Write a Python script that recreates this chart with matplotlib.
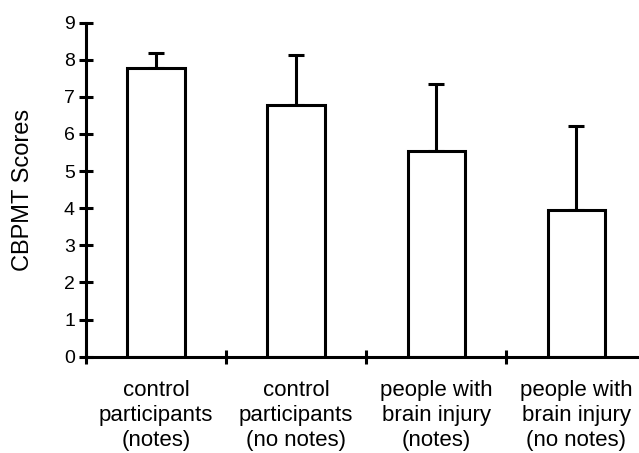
import numpy as np
import matplotlib
matplotlib.use('Agg')
import matplotlib.pyplot as plt

plt.rcParams['font.family'] = ['Liberation Sans', 'DejaVu Sans']

groups = ['control\nparticipants\n(notes)', 'control\nparticipants\n(no notes)',
          'people with\nbrain injury\n(notes)', 'people with\nbrain injury\n(no notes)']
means = [7.77, 6.78, 5.55, 3.95]
err_up = [0.42, 1.35, 1.80, 2.27]

fig = plt.figure(figsize=(6.39, 4.53), dpi=100)
ax = fig.add_axes([0.1346, 0.2126, 0.877, 0.7374])

x = np.arange(len(means))
ax.bar(x, means, width=0.41, color='white', edgecolor='black', linewidth=2.2, zorder=2)
ax.errorbar(x, means, yerr=[np.zeros(len(means)), err_up], fmt='none', ecolor='black',
            elinewidth=2.2, capsize=5.5, capthick=2.2, zorder=1)

ax.set_xlim(-0.5, 3.5)
ax.set_ylim(0, 9)
ax.set_yticks(range(10))
ax.set_xticks(np.arange(-0.5, 3.6, 1.0))
ax.set_xticklabels([])
ax.set_xticks(x, minor=True)
ax.set_xticklabels(groups, minor=True, fontsize=16, linespacing=1.25)
ax.tick_params(axis='x', which='minor', length=0, pad=17)
ax.tick_params(axis='x', which='major', direction='inout', length=10, width=2.2)
ax.tick_params(axis='y', direction='inout', length=10, width=2.2, labelsize=14, pad=3)

for s in ['top', 'right']:
    ax.spines[s].set_visible(False)
for s in ['left', 'bottom']:
    ax.spines[s].set_linewidth(2.2)

ax.set_ylabel('CBPMT Scores', fontsize=17, va='center')
ax.yaxis.set_label_coords(-0.112, 0.5)

plt.savefig('out.png', dpi=100)
